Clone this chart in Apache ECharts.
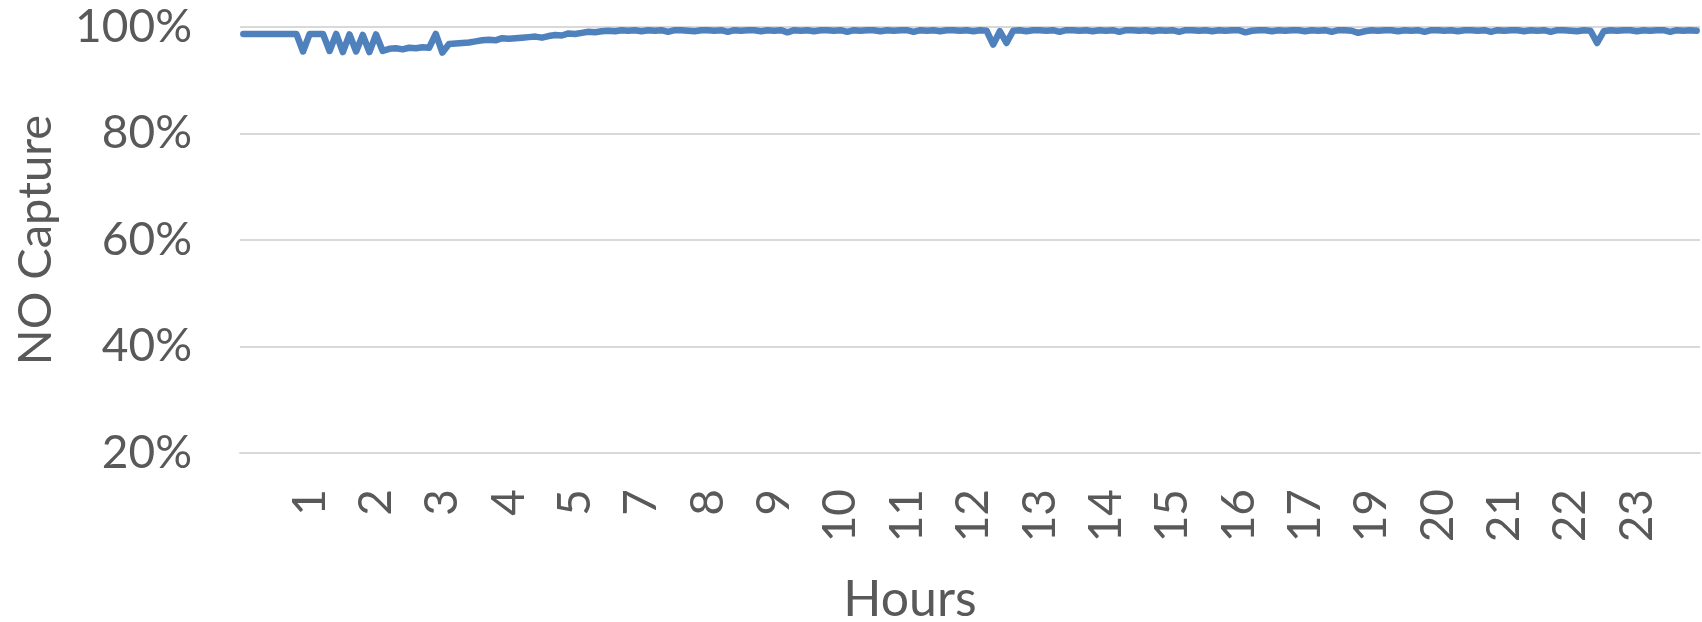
<!DOCTYPE html>
<html>
<head>
<meta charset="utf-8">
<script src="https://cdn.jsdelivr.net/npm/echarts@6/dist/echarts.min.js"></script>
<style>
  html, body { margin: 0; padding: 0; background: #fff; }
  #chart { width: 1702px; height: 622px; }
</style>
</head>
<body>
<div id="chart"></div>
<script>
// hour labels shown under every 10th sample
const hourTicks = [1, 2, 3, 4, 5, 7, 8, 9, 10, 11, 12, 13, 14, 15, 16, 17, 19, 20, 21, 22, 23];
const tickEvery = 10;

// NO capture (%), one value per sample
const captureStart = [
  98.7, 98.7, 98.7, 98.7, 98.7, 98.7, 98.7, 98.7, 98.7, 95.4,
  98.7, 98.7, 98.7, 95.5, 98.7, 95.3, 98.6, 95.4, 98.5, 95.3,
  98.6, 95.5, 95.9, 96.0, 95.8, 96.1, 96.0, 96.2, 96.1, 98.7,
  95.2, 96.8, 96.9, 97.0, 97.1, 97.3, 97.5, 97.6, 97.5, 97.9,
  97.8, 97.9, 98.0, 98.1, 98.2, 98.0, 98.3, 98.5, 98.4, 98.8,
  98.7, 98.9, 99.1, 99.0, 99.2, 99.3, 99.2, 99.4, 99.3, 99.4
];
const captureRest = [
  99.2, 99.4, 99.3, 99.4, 99.1, 99.4, 99.4, 99.3, 99.2, 99.4,
  99.4, 99.3, 99.4, 99.1, 99.4, 99.3, 99.4, 99.4, 99.2, 99.4,
  99.3, 99.4, 99.0, 99.4, 99.3, 99.4, 99.2, 99.4, 99.4, 99.3,
  99.4, 99.1, 99.4, 99.3, 99.4, 99.4, 99.2, 99.4, 99.3, 99.4,
  99.4, 99.1, 99.4, 99.3, 99.4, 99.2, 99.4, 99.4, 99.3, 99.4,
  99.2, 99.4, 99.3, 96.7, 99.2, 97.0, 99.3, 99.4, 99.2, 99.4,
  99.4, 99.3, 99.4, 99.1, 99.4, 99.4, 99.3, 99.4, 99.2, 99.4,
  99.3, 99.4, 99.1, 99.4, 99.4, 99.3, 99.4, 99.2, 99.4, 99.3,
  99.4, 99.1, 99.4, 99.4, 99.3, 99.4, 99.2, 99.4, 99.3, 99.4,
  99.4, 99.0, 99.3, 99.4, 99.4, 99.2, 99.4, 99.3, 99.4, 99.4,
  99.2, 99.4, 99.3, 99.4, 99.1, 99.4, 99.4, 99.3, 98.9, 99.2,
  99.4, 99.3, 99.4, 99.4, 99.2, 99.4, 99.3, 99.4, 99.1, 99.4,
  99.4, 99.3, 99.4, 99.2, 99.4, 99.4, 99.3, 99.4, 99.1, 99.4,
  99.3, 99.4, 99.4, 99.2, 99.4, 99.3, 99.4, 99.1, 99.4, 99.4,
  99.3, 99.2, 99.4, 99.3, 97.0, 99.2, 99.4, 99.3, 99.4, 99.4,
  99.2, 99.4, 99.3, 99.4, 99.4, 99.1, 99.4, 99.3, 99.4, 99.3
];

const capture = captureStart.concat(captureRest);
// category labels: tick label on every 10th sample, blank otherwise
const categories = capture.map((v, i) => {
  if (i > 0 && i % tickEvery === 0 && hourTicks[i / tickEvery - 1] !== undefined) {
    return String(hourTicks[i / tickEvery - 1]);
  }
  return '';
});

const textColor = '#595959';
const fontFamily = 'Lato, "Liberation Sans", sans-serif';

const myChart = echarts.init(document.getElementById('chart'));
const option = {
  animation: false,
  grid: { left: 240, right: 2, top: 27, bottom: 169 },
  xAxis: {
    type: 'category',
    data: categories,
    boundaryGap: true,
    axisLine: { show: true, lineStyle: { color: '#D9D9D9', width: 2 } },
    axisTick: { show: false },
    axisLabel: {
      interval: 0,
      rotate: 90,
      margin: 36,
      color: textColor,
      fontSize: 46,
      fontFamily: fontFamily
    },
    splitLine: { show: false }
  },
  yAxis: {
    type: 'value',
    min: 20,
    max: 100,
    interval: 20,
    name: 'NO Capture',
    nameLocation: 'middle',
    nameGap: 181,
    nameTextStyle: { color: textColor, fontSize: 47, fontFamily: fontFamily },
    axisLine: { show: false },
    axisTick: { show: false },
    axisLabel: {
      margin: 48,
      color: textColor,
      fontSize: 46,
      fontFamily: fontFamily,
      formatter: '{value}%'
    },
    splitLine: { lineStyle: { color: '#D9D9D9', width: 2 } }
  },
  graphic: [
    {
      type: 'text',
      x: 910,
      y: 600,
      style: {
        text: 'Hours',
        fill: textColor,
        font: '50px ' + fontFamily,
        align: 'center',
        verticalAlign: 'middle'
      }
    }
  ],
  series: [
    {
      type: 'line',
      data: capture,
      symbol: 'none',
      lineStyle: { color: '#4F81BD', width: 6.5, cap: 'round', join: 'round' }
    }
  ]
};
myChart.setOption(option);
</script>
</body>
</html>
